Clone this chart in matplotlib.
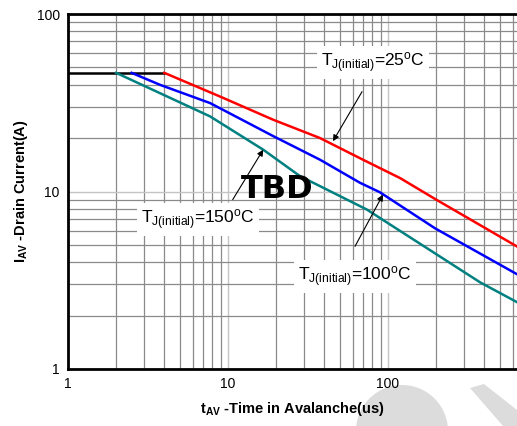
import matplotlib
matplotlib.use("Agg")
import matplotlib.pyplot as plt
from matplotlib.patches import Circle, Polygon
from matplotlib.ticker import LogLocator, NullFormatter, FixedLocator, FixedFormatter

plt.rcParams['font.family'] = ['Liberation Sans', 'DejaVu Sans']
plt.rcParams['mathtext.fontset'] = 'custom'
plt.rcParams['mathtext.rm'] = 'Liberation Sans'
plt.rcParams['mathtext.bf'] = 'Liberation Sans:bold'
plt.rcParams['mathtext.it'] = 'Liberation Sans:italic'

# Data (t_AV in us, I_AV in A)
flat_t = [1.0, 4.0]
flat_i = [46.6, 46.6]

t_25 = [4.0, 8.9, 19.1, 37.6, 69.8, 119, 200, 640]
i_25 = [46.6, 34.3, 25.4, 20.0, 15.1, 11.9, 9.0, 4.9]

t_100 = [2.5, 3.76, 7.72, 19.2, 37.6, 66.8, 89, 197, 640]
i_100 = [46.6, 39.9, 31.5, 20.5, 15.1, 11.2, 9.9, 6.2, 3.42]

t_150 = [2.0, 3.76, 7.72, 16.6, 28.2, 73.6, 376, 640]
i_150 = [46.6, 35.8, 26.5, 17.2, 12.2, 7.92, 3.08, 2.38]

xticks = [1, 10, 100]
xticklabels = ['1', '10', '100']
yticks = [1, 10, 100]
yticklabels = ['1', '10', '100']

W, H = 517, 426
fig = plt.figure(figsize=(W / 100, H / 100), dpi=100)

# watermark shapes (figure pixel coords, origin bottom-left)
wm_color = '#dcdcdc'
dome = Circle((402, 426 - 431), 46, transform=None,
              facecolor=wm_color, edgecolor='none', zorder=-1)
fig.patches.append(dome)
stripe_px = [(470, 388), (484, 384), (517, 410), (517, 426), (503, 426)]
stripe = Polygon([[x, 426 - y] for x, y in stripe_px], closed=True,
                 transform=None, facecolor=wm_color, edgecolor='none', zorder=-1)
fig.patches.append(stripe)

left = 68 / W
bottom = 1 - 369 / H
top = 1 - 14 / H
ax = fig.add_axes([left, bottom, 1 - left, top - bottom])
ax.set_xscale('log')
ax.set_yscale('log')
ax.set_xlim(1, 10 ** ((517 - 68) / 160))
ax.set_ylim(1, 100)

ax.xaxis.set_major_locator(FixedLocator(xticks))
ax.xaxis.set_major_formatter(FixedFormatter(xticklabels))
ax.yaxis.set_major_locator(FixedLocator(yticks))
ax.yaxis.set_major_formatter(FixedFormatter(yticklabels))
ax.xaxis.set_minor_locator(LogLocator(base=10, subs=range(2, 10)))
ax.yaxis.set_minor_locator(LogLocator(base=10, subs=range(2, 10)))
ax.xaxis.set_minor_formatter(NullFormatter())
ax.yaxis.set_minor_formatter(NullFormatter())

ax.grid(which='minor', color='#8a8a8a', lw=0.9)
ax.grid(which='major', color='#c4c4c4', lw=1.0)
ax.set_axisbelow(True)
ax.tick_params(which='both', length=0, labelsize=10, pad=6)

for s in ['left', 'top', 'bottom']:
    ax.spines[s].set_linewidth(2)
    ax.spines[s].set_color('black')
ax.spines['right'].set_visible(False)
ax.patch.set_alpha(0)

ax.plot(flat_t, flat_i, color='black', lw=1.8, zorder=3)
ax.plot(t_25, i_25, color='#ff0000', lw=1.8, zorder=3)
ax.plot(t_100, i_100, color='#0000ff', lw=1.8, zorder=3)
ax.plot(t_150, i_150, color='#008080', lw=1.8, zorder=3)

ax.set_xlabel(r'$\mathbf{t_{AV}}$ -Time in Avalanche(us)', fontsize=10.5,
              fontweight='bold', labelpad=6)
ax.set_ylabel(r'$\mathbf{I_{AV}}$ -Drain Current(A)', fontsize=10.5,
              fontweight='bold', labelpad=5)

box = dict(facecolor='white', edgecolor='none', pad=3)
arrow = dict(arrowstyle='-|>', lw=0.8, color='black', mutation_scale=9,
             shrinkA=0, shrinkB=0)

ax.text(80.5, 53, r'T$_{\mathrm{J(initial)}}$=25$^{\mathrm{o}}$C', fontsize=12.5,
        ha='center', va='center', bbox=box, zorder=4)
ax.annotate('', xy=(45.3, 19.2), xytext=(68.8, 36.5), arrowprops=arrow, zorder=5)

ax.text(6.49, 6.96, r'T$_{\mathrm{J(initial)}}$=150$^{\mathrm{o}}$C', fontsize=12.5,
        ha='center', va='center', bbox=box, zorder=4)
ax.annotate('', xy=(16.6, 17.2), xytext=(10.7, 9.0), arrowprops=arrow, zorder=5)

ax.text(62.2, 3.33, r'T$_{\mathrm{J(initial)}}$=100$^{\mathrm{o}}$C', fontsize=12.5,
        ha='center', va='center', bbox=box, zorder=4)
ax.annotate('', xy=(93, 9.6), xytext=(62.2, 4.91), arrowprops=arrow, zorder=5)

ax.text(20.2, 10.3, 'TBD', fontsize=23, fontweight='bold', family='DejaVu Sans',
        ha='center', va='center', zorder=6)

fig.savefig('out.png', dpi=100)
